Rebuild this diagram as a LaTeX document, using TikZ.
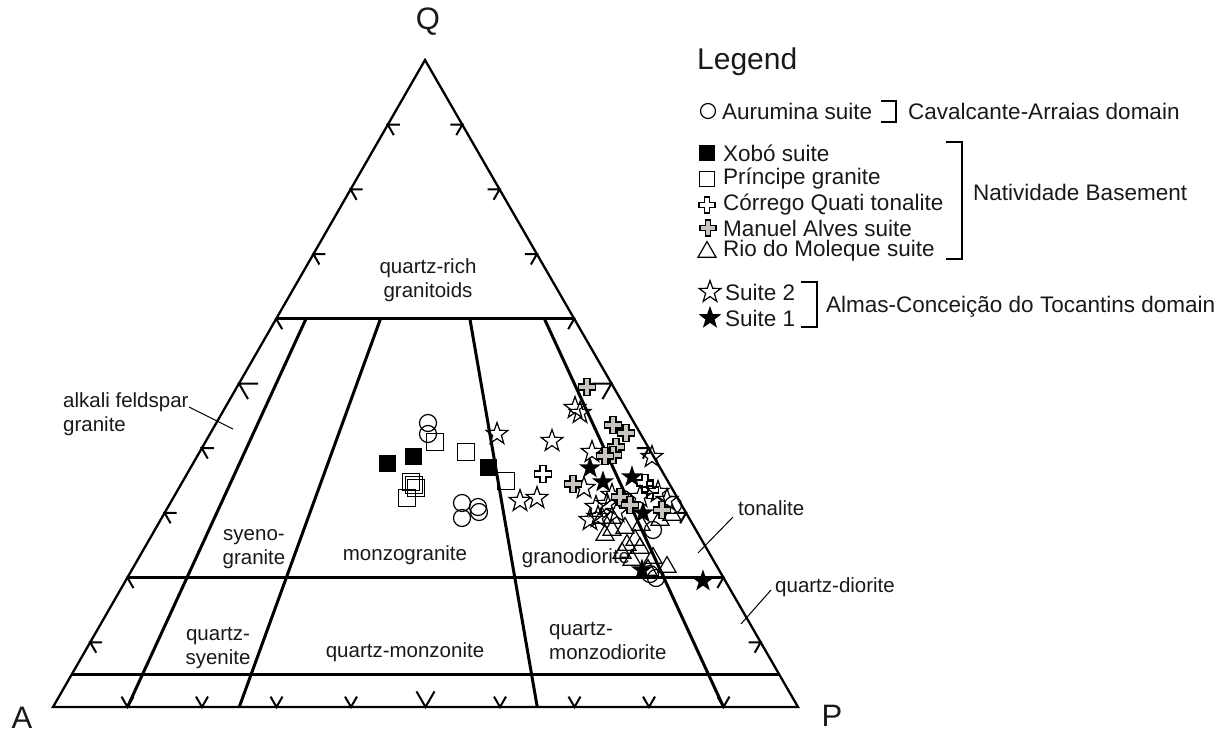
\documentclass[tikz,border=0pt]{standalone}
\usepackage{fontspec}
\setmainfont{Liberation Sans}
\usetikzlibrary{calc}
\definecolor{symgray}{RGB}{200,196,190}
\definecolor{inkc}{RGB}{25,25,25}
\tikzset{
  edgeline/.style={line width=2.3pt, line join=miter},
  hline/.style={line width=2.7pt},
  rline/.style={line width=3pt},
  tk/.style={line width=2pt},
  lbl/.style={font=\fontsize{20.5}{23.5}\selectfont, inner sep=0pt, text=inkc},
  legtxt/.style={font=\fontsize{22.5}{26}\selectfont, inner sep=0pt, anchor=west, text=inkc},
  leader/.style={line width=1pt},
  brk/.style={line width=1.4pt},
  sym/.style={line width=1.2pt, line join=miter},
  pics/ocirc/.style={code={\draw[sym] (0,0) circle[radius=8.5pt];}},
  pics/fsq/.style={code={\fill[black] (-8.5,-8.5) rectangle (8.5,8.5);}},
  pics/osq/.style={code={\draw[sym] (-8.5,-8.5) rectangle (8.5,8.5);}},
  pics/ocross/.style={code={\draw[sym] (-3,-8.5)--(3,-8.5)--(3,-3)--(8.5,-3)--(8.5,3)--(3,3)--(3,8.5)--(-3,8.5)--(-3,3)--(-8.5,3)--(-8.5,-3)--(-3,-3)--cycle;}},
  pics/gcross/.style={code={\draw[sym, fill=symgray] (-3,-8.5)--(3,-8.5)--(3,-3)--(8.5,-3)--(8.5,3)--(3,3)--(3,8.5)--(-3,8.5)--(-3,3)--(-8.5,3)--(-8.5,-3)--(-3,-3)--cycle;}},
  pics/otri/.style={code={\draw[sym] (0,-10.4)--(9,5.2)--(-9,5.2)--cycle;}},
  pics/ostar/.style={code={\draw[sym] (0,-11.5)--(2.7,-3.7)--(10.9,-3.55)--(4.37,1.42)--(6.76,9.3)--(0,4.6)--(-6.76,9.3)--(-4.37,1.42)--(-10.9,-3.55)--(-2.7,-3.7)--cycle;}},
  pics/fstar/.style={code={\fill[black] (0,-11.5)--(2.7,-3.7)--(10.9,-3.55)--(4.37,1.42)--(6.76,9.3)--(0,4.6)--(-6.76,9.3)--(-4.37,1.42)--(-10.9,-3.55)--(-2.7,-3.7)--cycle;}},
}
\begin{document}
\begin{tikzpicture}[x=1pt,y=-1pt]
\useasboundingbox (0,0) rectangle (1224,738);
% vertices
\coordinate (A) at (53,707);
\coordinate (P) at (798,707);
\coordinate (Qv) at (425,60);
\coordinate (l60) at ($(A)!0.6!(Qv)$);
\coordinate (r60) at ($(P)!0.6!(Qv)$);
\coordinate (l20) at ($(A)!0.2!(Qv)$);
\coordinate (r20) at ($(P)!0.2!(Qv)$);
\coordinate (l05) at ($(A)!0.05!(Qv)$);
\coordinate (r05) at ($(P)!0.05!(Qv)$);
\coordinate (t10) at ($(l60)!0.1!(r60)$);
\coordinate (t35) at ($(l60)!0.35!(r60)$);
\coordinate (t65) at ($(l60)!0.65!(r60)$);
\coordinate (t90) at ($(l60)!0.9!(r60)$);
\coordinate (b10) at ($(A)!0.1!(P)$);
\coordinate (b35) at ($(A)!0.25!(P)$);
\coordinate (b65) at ($(A)!0.65!(P)$);
\coordinate (b90) at ($(A)!0.9!(P)$);
% outline and fields
\draw[edgeline] (A) -- (Qv) -- (P) -- cycle;
\draw[hline] (l60) -- (r60);
\draw[hline] (l20) -- (r20);
\draw[hline] (l05) -- (r05);
\draw[rline] (t10) -- (b10);
\draw[rline] (t35) -- (b35);
\draw[rline] (t65) -- (b65);
\draw[rline] (t90) -- (b90);
% ticks
\foreach \f in {0.1,0.2,0.3,0.4,0.6,0.7,0.8,0.9}{
  \draw[tk] ($(A)!\f!(Qv)+(12,0)$) -- ($(A)!\f!(Qv)$) -- ($(A)!\f!(Qv)+(6,10.4)$);
  \draw[tk] ($(P)!\f!(Qv)+(-12,0)$) -- ($(P)!\f!(Qv)$) -- ($(P)!\f!(Qv)+(-6,10.4)$);
  \draw[tk] ($(A)!\f!(P)+(-6,-10.4)$) -- ($(A)!\f!(P)$) -- ($(A)!\f!(P)+(6,-10.4)$);
}
\draw[tk] ($(A)!0.5!(Qv)+(19,0)$) -- ($(A)!0.5!(Qv)$) -- ($(A)!0.5!(Qv)+(9,15.6)$);
\draw[tk] ($(P)!0.5!(Qv)+(-19,0)$) -- ($(P)!0.5!(Qv)$) -- ($(P)!0.5!(Qv)+(-9,15.6)$);
\draw[tk] ($(A)!0.5!(P)+(-9,-15.6)$) -- ($(A)!0.5!(P)$) -- ($(A)!0.5!(P)+(9,-15.6)$);
% apex labels
\node[font=\fontsize{31}{35}\selectfont, inner sep=0pt, text=inkc] (labQ) at (428,22) {Q};
\node[font=\fontsize{31}{35}\selectfont, inner sep=0pt, text=inkc] (labA) at (22,718) {A};
\node[font=\fontsize{31}{35}\selectfont, inner sep=0pt, text=inkc] (labP) at (832,716) {P};
% field labels
\node[lbl, align=center] (qrich) at (428,280) {quartz-rich\\granitoids};
\node[lbl, align=left, anchor=west] (afg) at (63,414) {alkali feldspar\\granite};
\node[lbl, align=center] (syeno) at (254,549) {syeno-\\granite};
\node[lbl] (monzo) at (405,555) {monzogranite};
\node[lbl] (grano) at (576,558) {granodiorite};
\node[lbl, align=center] (qsy) at (218,648) {quartz-\\syenite};
\node[lbl] (qmz) at (405,652) {quartz-monzonite};
\node[lbl, align=left, anchor=west] (qmzd) at (549,641) {quartz-\\monzodiorite};
\node[lbl, anchor=west] (ton) at (738,508) {tonalite};
\node[lbl, anchor=west] (qdi) at (775,587) {quartz-diorite};
% leaders
\coordinate (afgs) at (189,407);
\coordinate (afge) at (233,429);
\coordinate (tons) at (733,517);
\coordinate (tone) at (698,553);
\coordinate (qdis) at (771,590);
\coordinate (qdie) at (741,624);
\draw[leader] (afgs) -- (afge);
\draw[leader] (tons) -- (tone);
\draw[leader] (qdis) -- (qdie);
% data: Aurumina suite
\foreach \p in {(428,423),(428,434),(462,503),(462,518),(478,507),(479,512),(623,499),(673,505),(653,530),(650,574),(656,578)}
  \pic at \p {ocirc};
% Xobo suite
\foreach \p in {(387,463),(413,456),(488,467)}
  \pic at \p {fsq};
% Principe granite
\foreach \p in {(435,442),(466,452),(506,481),(411,482),(414,485),(416,488),(407,498)}
  \pic at \p {osq};
% Rio do Moleque suite
\foreach \p in {(602,518),(612,518),(672,515),(612,530),(625,528),(635,540),(627,545),(622,553),(653,558),(667,567),(648,570),(641,525),(660,520),(605,535),(632,560),(640,548)}
  \pic at \p {otri};
% Suite 2
\foreach \p in {(497,434),(552,441),(520,501),(537,498),(575,408),(580,413),(592,452),(652,457),(584,488),(658,492),(596,507),(607,504),(617,512),(640,497),(598,517),(667,500),(590,520),(612,495)}
  \pic at \p {ostar};
% Corrego Quati tonalite
\foreach \p in {(543,474),(645,483),(650,490)}
  \pic at \p {ocross};
% Manuel Alves suite
\foreach \p in {(587,387),(613,425),(626,433),(616,447),(613,455),(605,456),(573,484),(620,497),(662,510),(630,505)}
  \pic at \p {gcross};
% Suite 1
\foreach \p in {(590,468),(603,482),(632,477),(643,513),(642,570),(703,581)}
  \pic at \p {fstar};
% legend
\node[font=\fontsize{30}{34}\selectfont, inner sep=0pt, anchor=west, text=inkc] (legtitle) at (697,62) {Legend};
\pic[scale=0.88] at (708,111) {ocirc};
\node[legtxt] (lauru) at (722,111) {Aurumina suite};
\draw[brk] (881,101) -- (896,101) -- (896,122) -- (881,122);
\node[legtxt] (lcav) at (908,111) {Cavalcante-Arraias domain};
\pic[scale=0.95] at (707,153) {fsq};
\node[legtxt] (lxobo) at (723,153) {Xobó suite};
\pic[scale=0.88] at (707,179) {osq};
\node[legtxt] (lprin) at (723,179) {Príncipe granite};
\pic[scale=0.95] at (707,205) {ocross};
\node[legtxt] (lcorr) at (723,205) {Córrego Quati tonalite};
\pic[scale=0.95] at (708,228) {gcross};
\node[legtxt] (lmanu) at (723,228) {Manuel Alves suite};
\pic[scale=1.0] at (707,252) {otri};
\node[legtxt] (lrio) at (723,251) {Rio do Moleque suite};
\draw[brk] (946,142) -- (962,142) -- (962,259) -- (946,259);
\node[legtxt] (lnat) at (973,192) {Natividade Basement};
\pic at (710,292) {ostar};
\node[legtxt] (ls2) at (725,292) {Suite 2};
\pic[scale=1.05] at (710,318) {fstar};
\node[legtxt] (ls1) at (725,318) {Suite 1};
\draw[brk] (801,282) -- (817,282) -- (817,327) -- (801,327);
\node[legtxt] (lalm) at (826,307) {Almas-Conceição do Tocantins domain};
\end{tikzpicture}
\end{document}
